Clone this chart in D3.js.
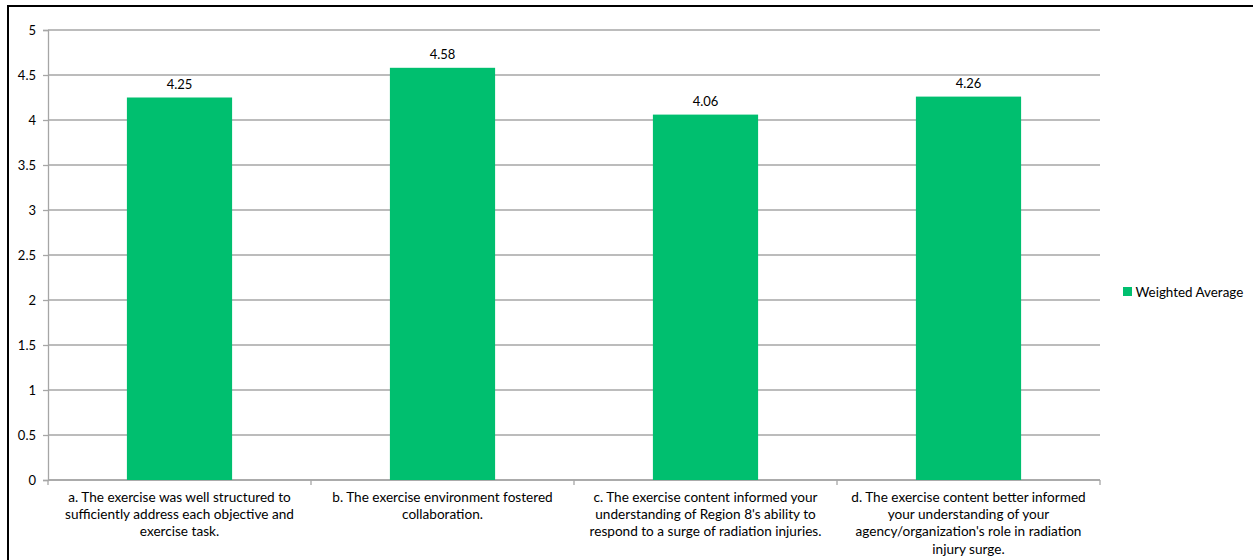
<!DOCTYPE html>
<html><head><meta charset="utf-8">
<script src="https://cdn.jsdelivr.net/npm/d3@7"></script>
<style>
html,body{margin:0;padding:0;background:#fff;}
text{font-family:"Lato","Open Sans",sans-serif;fill:#000;}
</style></head>
<body><svg id="c" width="1253" height="560"></svg>
<script>
const categories = [
  ["a. The exercise was well structured to","sufficiently address each objective and","exercise task."],
  ["b. The exercise environment fostered","collaboration."],
  ["c. The exercise content informed your","understanding of Region 8's ability to","respond to a surge of radiation injuries."],
  ["d. The exercise content better informed","your understanding of your","agency/organization's role in radiation","injury surge."]
];
const values = [4.25, 4.58, 4.06, 4.26];
const yTicks = [0, 0.5, 1, 1.5, 2, 2.5, 3, 3.5, 4, 4.5, 5];
const seriesName = "Weighted Average";

(function(){
const svg = d3.select("#c");
const mL = 48, mR = 1100, mT = 30, mB = 480;
const x = d3.scaleBand().domain(d3.range(categories.length)).range([mL, mR]).padding(0);
const y = d3.scaleLinear().domain([0, 5]).range([mB, mT]);
const green = "#00BF6F", grid = "#a6a6a6";

// border
svg.append("path").attr("d", "M8,560 V6 H1253").attr("fill","none").attr("stroke","#000").attr("stroke-width",2);

// gridlines
svg.append("g").selectAll("line").data(yTicks).join("line")
  .attr("x1", mL).attr("x2", mR).attr("y1", d=>y(d)).attr("y2", d=>y(d))
  .attr("stroke", grid).attr("stroke-width", 1.3);

// y axis
const ya = svg.append("g").attr("transform", `translate(${mL},0)`)
  .call(d3.axisLeft(y).tickValues(yTicks).tickSize(5).tickPadding(7).tickFormat(d=>String(d)));
ya.select(".domain").attr("stroke", grid).attr("stroke-width",1.3);
ya.selectAll(".tick line").attr("stroke", grid).attr("stroke-width",1.3);
ya.selectAll("text").attr("font-size", 13).style("font-family","Lato, sans-serif");

// x axis line + ticks at band edges
const edges = d3.range(categories.length + 1).map(i => mL + i * x.step());
svg.append("line").attr("x1", mL).attr("x2", mR).attr("y1", mB).attr("y2", mB)
  .attr("stroke", grid).attr("stroke-width", 1.3);
svg.append("g").selectAll("line").data(edges).join("line")
  .attr("x1", d=>d).attr("x2", d=>d).attr("y1", mB).attr("y2", mB+5)
  .attr("stroke", grid).attr("stroke-width", 1.3);

// bars
const bw = x.bandwidth() * 0.4;
svg.append("g").selectAll("rect").data(values).join("rect")
  .attr("x", (d,i)=> x(i) + x.bandwidth()/2 - bw/2)
  .attr("width", bw)
  .attr("y", d=>y(d)).attr("height", d=> y(0) - y(d))
  .attr("fill", green);

// value labels
svg.append("g").selectAll("text").data(values).join("text")
  .attr("x", (d,i)=> x(i) + x.bandwidth()/2)
  .attr("y", d=> y(d) - 9)
  .attr("text-anchor","middle").attr("font-size", 13)
  .text(d=> d.toFixed(2));

// category labels
const cl = svg.append("g").selectAll("text").data(categories).join("text")
  .attr("text-anchor","middle").attr("font-size", 13.6)
  .attr("x", (d,i)=> x(i) + x.bandwidth()/2);
cl.each(function(lines, i){
  const t = d3.select(this);
  lines.forEach((ln, j) => {
    t.append("tspan").attr("x", x(i) + x.bandwidth()/2).attr("y", 502 + j*17.2).text(ln);
  });
});

// legend
const lg = svg.append("g").attr("transform","translate(1123,287)");
lg.append("rect").attr("x",0).attr("y",0).attr("width",9).attr("height",9).attr("fill",green);
lg.append("text").attr("x",12.5).attr("y",9.5).attr("font-size",13.4).text(seriesName);
})();
</script></body></html>
